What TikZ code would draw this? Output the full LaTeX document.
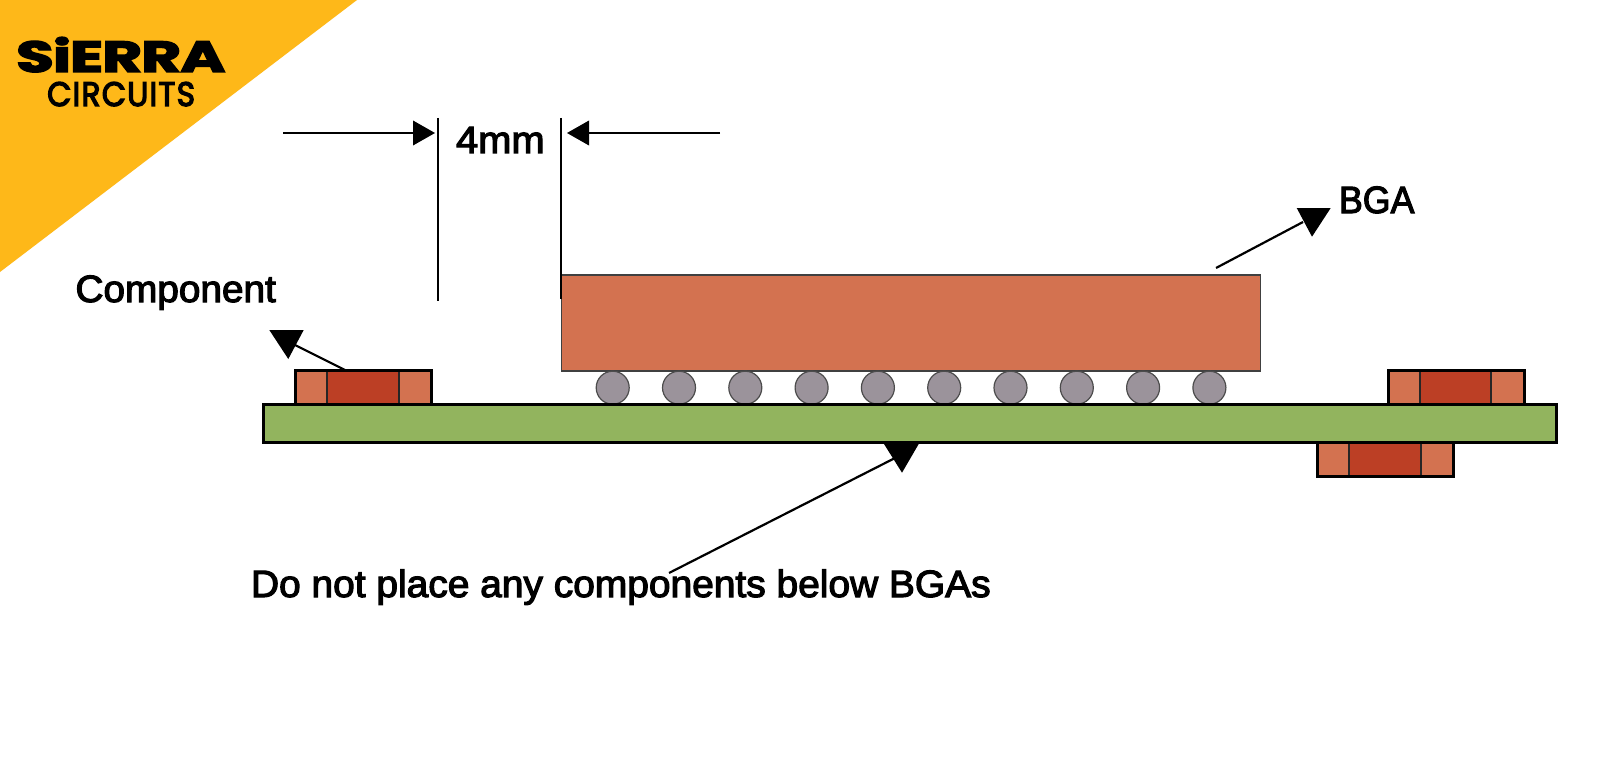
\documentclass[tikz,border=0pt]{standalone}
\usepackage{graphicx}
\usepackage{fontspec}
\setmainfont{Liberation Sans}
\newfontfamily\lab[FakeBold=3]{Liberation Sans}
\newfontfamily\logoa[BoldFeatures={FakeBold=3,LetterSpace=-1.5}]{Poppins}
\newfontfamily\logob[FakeBold=4,LetterSpace=4]{Poppins}
\usetikzlibrary{positioning}
\definecolor{logoyellow}{HTML}{FEB819}
\definecolor{copper}{HTML}{D37250}
\definecolor{darkcopper}{HTML}{BC3F25}
\definecolor{boardgreen}{HTML}{92B45E}
\definecolor{ballgrey}{HTML}{9B939B}
\tikzset{
  x=1pt,y=-1pt,
  cell/.style={rectangle,draw=black!85,line width=1.2pt,inner sep=0pt,outer sep=0pt,anchor=north west,minimum height=34pt},
  pad/.style={cell,fill=copper},
  body/.style={cell,fill=darkcopper},
  frame/.style={rectangle,draw=black,line width=3pt,inner sep=0pt,outer sep=0pt,anchor=north west,minimum height=34pt,minimum width=136pt},
  board/.style={rectangle,draw=black,fill=boardgreen,line width=3pt,inner sep=0pt,outer sep=0pt,anchor=north west},
  chip/.style={rectangle,draw=black!75,fill=copper,line width=1.3pt,inner sep=0pt,outer sep=0pt,anchor=north west},
  ball/.style={circle,draw=black!70,fill=ballgrey,line width=1.2pt,inner sep=0pt,outer sep=0pt,minimum size=33pt},
  wire/.style={draw=black,line width=2.2pt},
  tip/.style={fill=black},
  label/.style={inner sep=0pt,outer sep=0pt,anchor=base west,font=\lab\fontsize{38}{40}\selectfont},
}
\begin{document}
\begin{tikzpicture}
\useasboundingbox (0,0) rectangle (1600,765);
\fill[white] (0,0) rectangle (1600,765);
\fill[logoyellow] (0,0) -- (357,0) -- (0,272) -- cycle;
% logo
\node[inner sep=0pt,anchor=base west] (logoS) at (16,72) {\scalebox{1.36}[0.97]{\logoa\bfseries\fontsize{45}{45}\selectfont SiERRA}};
\node[inner sep=0pt,anchor=base west] (logoC) at (47,106) {\scalebox{0.92}[1]{\logob\fontsize{34}{34}\selectfont CIRCUITS}};
% BGA
\node[chip,minimum width=699pt,minimum height=96pt] (bga) at (561.5,275) {};
\foreach \i in {0,...,9}{
  \node[ball] (ball\i) at ({612.7+\i*66.3},387.7) {};
}
% board
\node[board,minimum width=1293pt,minimum height=38pt] (pcb) at (263,404) {};
% left component
\node[pad,minimum width=33pt] (c1l) at (295,370) {};
\node[body,minimum width=72pt] (c1b) at (327,370) {};
\node[pad,minimum width=32pt] (c1r) at (399,370) {};
\node[frame] (c1) at (295,370) {};
% right top component
\node[pad,minimum width=33pt] (c2l) at (1388,370) {};
\node[body,minimum width=71pt] (c2b) at (1420,370) {};
\node[pad,minimum width=33pt] (c2r) at (1491,370) {};
\node[frame] (c2) at (1388,370) {};
% right bottom component
\node[pad,minimum width=33pt] (c3l) at (1317,442) {};
\node[body,minimum width=72pt] (c3b) at (1349,442) {};
\node[pad,minimum width=32pt] (c3r) at (1421,442) {};
\node[frame] (c3) at (1317,442) {};
% dimension lines
\coordinate (dl1) at (438,118);
\coordinate (dl2) at (438,301);
\coordinate (dr1) at (561,118);
\coordinate (dr2) at (561,299);
\draw[wire] (dl1) -- (dl2);
\draw[wire] (dr1) -- (dr2);
\coordinate (al) at (283,133);
\coordinate (alt) at (415,133);
\draw[wire] (al) -- (alt);
\fill[tip] (413,120.5) -- (435,133) -- (413,145.5) -- cycle;
\coordinate (ar) at (720,133);
\coordinate (art) at (587,133);
\draw[wire] (ar) -- (art);
\fill[tip] (589,120.5) -- (567,133) -- (589,145.5) -- cycle;
% labels
\node[label] (t4) at (456,153) {\scalebox{1.05}[1]{4mm}};
\node[label] (tb) at (1339,213) {\scalebox{0.94}[1]{BGA}};
\node[label] (tc) at (75.5,302) {\scalebox{1.02}[1]{Component}};
\node[label] (td) at (251,597) {\scalebox{1.024}[1]{Do not place any components below BGAs}};
% leader arrows
\coordinate (bs) at (1216,268);
\coordinate (be) at (1303,222);
\draw[wire] (bs) -- (be);
\fill[tip] (1296.7,208) -- (1330.7,208) -- (1312,236.7) -- cycle;
\coordinate (cs) at (345,370);
\coordinate (ce) at (295,345);
\draw[wire] (cs) -- (ce);
\fill[tip] (269.3,330) -- (303.7,330) -- (288.3,359) -- cycle;
\coordinate (ds) at (669,573);
\coordinate (de) at (895,458);
\draw[wire] (ds) -- (de);
\fill[tip] (884,444) -- (918.7,444) -- (902,472.7) -- cycle;
\end{tikzpicture}
\end{document}
